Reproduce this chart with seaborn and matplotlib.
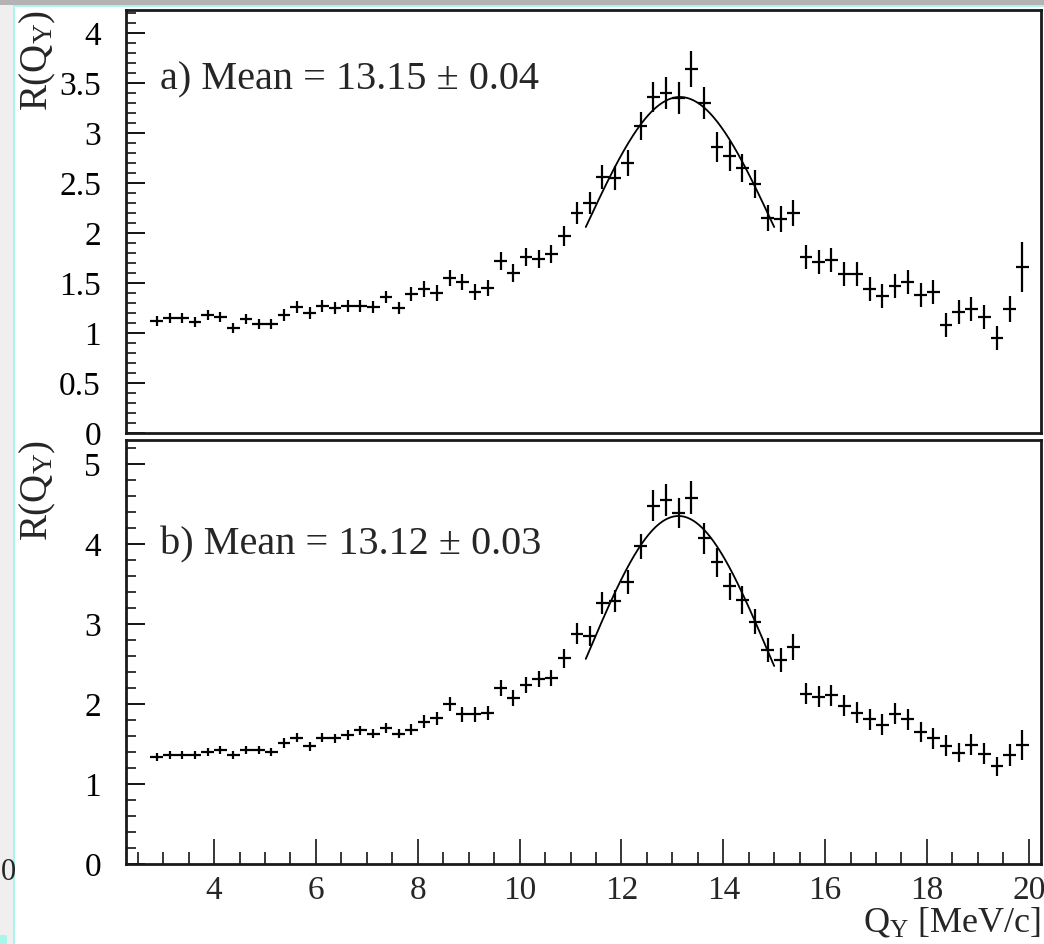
import numpy as np
import pandas as pd
import matplotlib
matplotlib.use("Agg")
import matplotlib.pyplot as plt
import seaborn as sns
from matplotlib.ticker import MultipleLocator, FuncFormatter
from matplotlib.patches import Rectangle

# ---------------------------------------------------------------- data
# histogram binning of Q_Y (MeV/c)
q_low, q_high, n_bins = 2.75, 20.0, 69
edges = np.linspace(q_low, q_high, n_bins + 1)
q_centers = 0.5 * (edges[:-1] + edges[1:])
half_bin = 0.5 * (edges[1] - edges[0])

ratio_a = [1.12, 1.15, 1.15, 1.11, 1.18, 1.16, 1.05, 1.14, 1.09, 1.09,
           1.18, 1.26, 1.20, 1.27, 1.25, 1.27, 1.27, 1.26, 1.36, 1.25,
           1.39, 1.44, 1.40, 1.55, 1.51, 1.41, 1.45, 1.72, 1.60, 1.76,
           1.74, 1.79, 1.97, 2.20, 2.30, 2.56, 2.55, 2.70, 3.07, 3.36,
           3.40, 3.35, 3.64, 3.30, 2.86, 2.77, 2.65, 2.49, 2.15, 2.14,
           2.20, 1.76, 1.71, 1.73, 1.59, 1.59, 1.44, 1.37, 1.47, 1.51,
           1.38, 1.41, 1.08, 1.21, 1.24, 1.16, 0.95, 1.24, 1.66]
err_a = [0.05, 0.05, 0.05, 0.05, 0.05, 0.05, 0.05, 0.05, 0.05, 0.05,
         0.06, 0.06, 0.06, 0.06, 0.06, 0.06, 0.06, 0.06, 0.06, 0.06,
         0.07, 0.08, 0.08, 0.08, 0.08, 0.08, 0.08, 0.09, 0.09, 0.09,
         0.09, 0.09, 0.10, 0.11, 0.11, 0.12, 0.12, 0.13, 0.14, 0.15,
         0.16, 0.16, 0.18, 0.16, 0.15, 0.15, 0.14, 0.14, 0.13, 0.13,
         0.13, 0.12, 0.12, 0.12, 0.12, 0.12, 0.12, 0.12, 0.12, 0.12,
         0.12, 0.12, 0.12, 0.12, 0.12, 0.12, 0.12, 0.13, 0.25]

ratio_b = [1.34, 1.36, 1.36, 1.36, 1.40, 1.43, 1.36, 1.43, 1.43, 1.40,
           1.51, 1.58, 1.47, 1.58, 1.57, 1.61, 1.67, 1.63, 1.70, 1.63,
           1.68, 1.78, 1.82, 2.00, 1.87, 1.87, 1.89, 2.20, 2.07, 2.24,
           2.31, 2.33, 2.57, 2.88, 2.85, 3.26, 3.29, 3.53, 3.97, 4.48,
           4.55, 4.39, 4.58, 4.07, 3.77, 3.47, 3.30, 3.03, 2.68, 2.55,
           2.71, 2.13, 2.09, 2.11, 1.98, 1.89, 1.81, 1.74, 1.88, 1.81,
           1.65, 1.57, 1.48, 1.39, 1.49, 1.38, 1.22, 1.36, 1.49]
err_b = [0.05, 0.05, 0.05, 0.05, 0.05, 0.05, 0.05, 0.05, 0.05, 0.05,
         0.06, 0.06, 0.06, 0.06, 0.06, 0.06, 0.06, 0.06, 0.06, 0.06,
         0.07, 0.08, 0.08, 0.09, 0.09, 0.09, 0.09, 0.10, 0.10, 0.10,
         0.10, 0.10, 0.12, 0.13, 0.13, 0.14, 0.14, 0.15, 0.16, 0.19,
         0.20, 0.19, 0.21, 0.19, 0.18, 0.17, 0.17, 0.16, 0.15, 0.15,
         0.16, 0.13, 0.13, 0.13, 0.13, 0.13, 0.13, 0.13, 0.13, 0.13,
         0.13, 0.13, 0.13, 0.12, 0.13, 0.13, 0.12, 0.14, 0.19]

# Gaussian fit results for both samples
fit_range = (11.3, 15.0)
fit_a = dict(amp=3.36, mean=13.15, sigma=1.87, mean_err=0.04)
fit_b = dict(amp=4.35, mean=13.12, sigma=1.77, mean_err=0.03)

panel_labels = ["a)", "b)"]
y_label = r"R(Q$_{\mathrm{Y}}$)"
x_label = r"Q$_{\mathrm{Y}}$ [MeV/c]"

# ---------------------------------------------------------------- style
sns.set_theme(style="white")
plt.rcParams["font.family"] = ["Liberation Serif", "DejaVu Serif"]
plt.rcParams["mathtext.fontset"] = "custom"
plt.rcParams["mathtext.rm"] = "Liberation Serif"
plt.rcParams["mathtext.it"] = "Liberation Serif:italic"

W, H = 1044, 944
fig = plt.figure(figsize=(W / 100, H / 100), dpi=100)
fig.patch.set_facecolor("white")


def chrome(x0, y0, w, h, color):
    """Window-frame strip given in pixels from the top-left corner."""
    fig.patches.append(Rectangle((x0 / W, 1 - (y0 + h) / H), w / W, h / H,
                                 transform=fig.transFigure, facecolor=color,
                                 edgecolor="none", zorder=-5))


chrome(0, 0, W, 5, "#b3b3b3")
chrome(14, 5, W - 14, 2, "#a8f5ea")
chrome(0, 5, 13, H - 5, "#efefef")
chrome(13, 5, 2, H - 5, "#a8f5ea")
chrome(0, H - 9, 7, 9, "#a8f5ea")
fig.text(0.5 / W, 1 - 872 / H, "0", fontsize=22, ha="left", va="center")

left, right = 126, 1041
ax_a = fig.add_axes([left / W, 1 - 433 / H, (right - left) / W, (433 - 10) / H])
ax_b = fig.add_axes([left / W, 1 - 864 / H, (right - left) / W, (864 - 440) / H])

tick_fmt = FuncFormatter(lambda v, p: f"{v:g}")


def draw_panel(ax, ratio, err, fit, ymax, major, minor):
    ax.set_facecolor("white")
    ax.errorbar(q_centers, ratio, xerr=half_bin, yerr=err, fmt="none",
                ecolor="black", elinewidth=1.6, capsize=0, zorder=3)

    q_fit = np.linspace(fit_range[0], fit_range[1], 200)
    curve = pd.DataFrame({
        "q": q_fit,
        "r": fit["amp"] * np.exp(-0.5 * ((q_fit - fit["mean"]) / fit["sigma"]) ** 2),
    })
    sns.lineplot(data=curve, x="q", y="r", ax=ax, color="black", linewidth=1.3,
                 zorder=4)

    ax.set_xlim(2.27, 20.24)
    ax.set_ylim(0, ymax)
    ax.yaxis.set_major_locator(MultipleLocator(major))
    ax.yaxis.set_minor_locator(MultipleLocator(minor))
    ax.yaxis.set_major_formatter(tick_fmt)
    ax.tick_params(axis="y", which="major", direction="in", length=14, width=1.3,
                   labelsize=24, pad=18, left=True, right=False, colors="black")
    ax.tick_params(axis="y", which="minor", direction="in", length=7, width=1.3,
                   left=True, right=False)
    for side in ax.spines.values():
        side.set_linewidth(2.0)
        side.set_color("#1a1a1a")

    ax.set_xlabel("")
    ax.set_ylabel(y_label, fontsize=28, loc="top", rotation=90)
    ax.yaxis.set_label_coords(-0.074, 1.0)


def mean_text(label, fit):
    return f"{label} Mean = {fit['mean']:.2f} \u00b1 {fit['mean_err']:.2f}"


draw_panel(ax_a, ratio_a, err_a, fit_a, 4.23, 0.5, 0.1)
ax_a.text(0.037, 0.835, mean_text(panel_labels[0], fit_a), transform=ax_a.transAxes,
          fontsize=29, ha="left", va="center")
ax_a.tick_params(axis="x", which="both", length=0, labelbottom=False)

draw_panel(ax_b, ratio_b, err_b, fit_b, 5.3, 1.0, 0.2)
ax_b.text(0.037, 0.752, mean_text(panel_labels[1], fit_b), transform=ax_b.transAxes,
          fontsize=29, ha="left", va="center")
ax_b.xaxis.set_major_locator(MultipleLocator(2))
ax_b.xaxis.set_minor_locator(MultipleLocator(0.5))
ax_b.xaxis.set_major_formatter(tick_fmt)
ax_b.tick_params(axis="x", which="major", direction="in", length=18, width=1.3,
                 labelsize=24, pad=8, bottom=True, top=False)
ax_b.tick_params(axis="x", which="minor", direction="in", length=9, width=1.3,
                 bottom=True, top=False)
ax_b.set_xlabel(x_label, fontsize=26, loc="right")
ax_b.xaxis.set_label_coords(1.0, -0.097)

fig.savefig("out.png", dpi=100)
